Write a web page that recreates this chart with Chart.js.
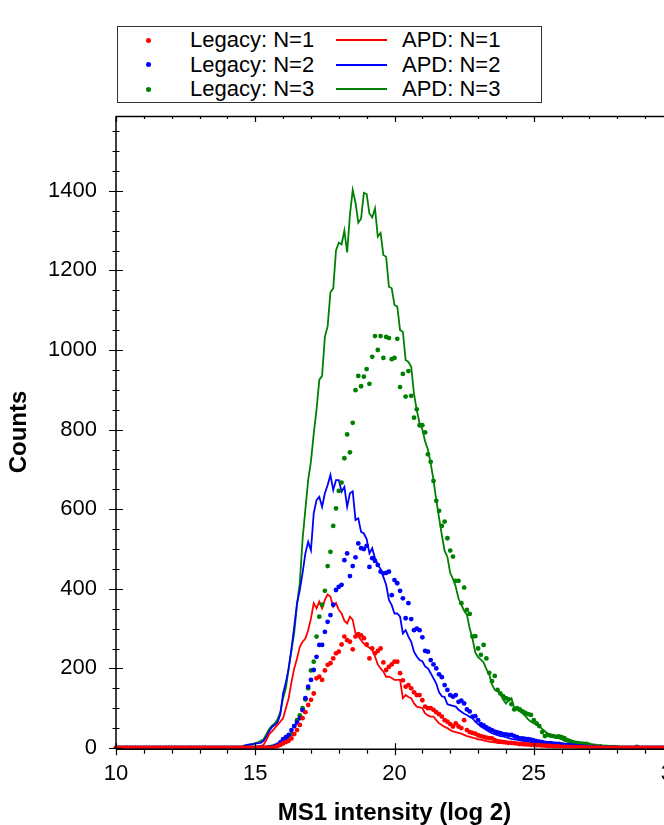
<!DOCTYPE html>
<html>
<head>
<meta charset="utf-8">
<script src="https://cdn.jsdelivr.net/npm/chart.js@4.4.1/dist/chart.umd.min.js"></script>
<style>
html,body{margin:0;padding:0;overflow:hidden;background:#fff;}
#wrap{position:relative;width:700px;height:840px;}
#c{position:absolute;left:0;top:0;}
#legend{position:absolute;left:117px;top:26px;width:425px;height:77px;box-sizing:border-box;border:1.3px solid #333;background:#fff;font-family:"Liberation Sans",Arial,sans-serif;font-size:22px;color:#000;}
.lt{position:absolute;line-height:24px;white-space:nowrap;}
.ld{position:absolute;width:5px;height:5px;border-radius:50%;}
.ll{position:absolute;width:51px;height:2px;}
</style>
</head>
<body>
<div id="wrap">
<canvas id="c" width="700" height="840" style="width:700px;height:840px"></canvas>
<div id="legend"></div>
</div>
<script>
// ---- data: counts per 0.1 log2 bin, bins from 10.0 to 30.0 ----
const intensityStart = 10.0;
const intensityStep = 0.1;

const legacyN1 = [
0,0,0,0,0,0,0,0,0,0,
0,0,0,0,0,0,0,0,0,0,
0,0,0,0,0,0,0,0,0,0,
0,0,0,0,0,0,0,0,0,0,
0,0,0,0,0,0,0,0,0,0,
0,0,0,0,0,0,0,2,4,8,
12,15,18,24,35,45,58,75,90,108,
121,137,175,179,171,195,209,213,225,238,
242,260,280,271,267,248,280,286,283,276,
260,225,250,238,244,250,215,196,204,210,
217,217,188,170,154,158,150,140,133,133,
120,104,100,100,96,90,85,79,70,66,
60,54,62,54,50,70,45,40,38,36,
32,30,28,26,25,24,20,17,16,15,
14,13,13,12,11,10,10,9,9,8,
8,7,7,6,6,5,5,4,4,4,
3,3,3,3,2,2,2,2,1,1,
1,1,1,1,0,0,0,0,0,0,
0,0,0,0,0,0,0,0,0,0,
0,0,0,0,0,0,0,0,0,0,
0];
const legacyN2 = [
0,0,0,0,0,0,0,0,0,0,
0,0,0,0,0,0,0,0,0,0,
0,0,0,0,0,0,0,0,0,0,
0,0,0,0,0,0,0,0,0,0,
0,0,0,0,0,0,0,0,0,0,
0,0,0,0,0,0,2,4,8,14,
22,27,33,45,55,64,75,95,125,154,
171,196,229,259,259,292,317,334,360,397,
405,410,472,489,432,457,479,514,502,500,
508,455,477,470,460,443,439,440,443,384,
422,414,395,376,326,364,324,296,300,296,
278,244,242,221,210,200,185,178,158,146,
133,129,133,116,119,112,97,92,79,80,
70,60,57,52,48,45,41,39,37,35,
34,33,33,30,27,24,24,23,22,21,
19,17,16,15,13,12,12,11,10,10,
9,8,7,7,6,5,4,4,3,3,
2,2,1,1,1,0,0,0,0,0,
0,0,0,0,0,0,0,0,0,0,
0,0,0,0,0,0,0,0,0,0,
0];
const legacyN3 = [
0,0,0,0,0,0,0,0,0,0,
0,0,0,0,0,0,0,0,0,0,
0,0,0,0,0,0,0,0,0,0,
0,0,0,0,0,0,0,0,0,0,
0,0,0,0,0,0,0,0,0,0,
0,0,0,0,0,2,3,5,7,9,
12,18,25,35,55,70,82,100,122,150,
195,217,280,330,360,395,457,493,558,602,
646,667,728,788,743,817,899,935,909,933,
952,915,983,1035,1000,1035,980,1033,1030,977,
980,1028,907,940,883,947,885,830,851,811,
811,793,738,719,671,621,596,558,569,527,
496,481,420,420,364,403,347,337,280,281,
250,234,259,225,189,168,181,146,137,130,
125,122,110,97,100,97,92,88,85,83,
70,62,55,40,30,33,31,30,28,29,
27,25,20,17,15,13,12,11,10,10,
8,6,5,4,4,3,3,2,2,2,
1,0,0,0,0,0,0,3,0,0,
0,0,0,0,0,0,0,0,0,0,
0];
const apdN1 = [
0,0,0,0,0,0,0,0,0,0,
0,0,0,0,0,0,0,0,0,0,
0,0,0,0,0,0,0,0,0,0,
0,0,0,0,0,0,0,0,0,0,
0,0,0,0,0,0,0,0,1,2,
3,4,5,8,20,35,42,50,58,66,
75,100,125,165,200,225,254,267,275,296,
325,364,351,368,351,372,386,380,355,364,
347,338,320,313,330,322,288,280,271,262,
256,252,246,230,210,200,192,179,179,176,
171,171,171,125,133,128,125,112,104,102,
100,87,82,79,79,70,62,58,53,50,
45,42,40,38,36,33,30,28,26,24,
22,21,19,17,16,15,14,13,12,12,
12,11,11,10,10,10,9,8,8,7,
7,6,6,5,5,5,4,4,4,3,
3,3,3,2,2,2,2,1,1,1,
1,1,1,0,0,0,0,0,0,0,
0,0,0,0,0,0,0,0,0,0,
0,0,0,0,0,0,0,0,0,0,
0];
const apdN2 = [
0,0,0,0,0,0,0,0,0,0,
0,0,0,0,0,0,0,0,0,0,
0,0,0,0,0,0,0,0,0,0,
0,0,0,0,0,0,0,0,0,0,
0,0,0,0,0,2,6,8,9,10,
11,12,13,18,28,42,53,58,64,85,
137,165,200,250,305,364,397,440,489,518,
497,590,623,631,606,640,661,686,648,673,
673,644,656,606,640,645,573,577,543,539,
525,489,502,477,460,450,430,410,372,359,
338,338,330,288,296,280,267,242,230,221,
218,205,200,188,175,162,140,130,128,110,
108,106,104,96,91,86,83,78,75,66,
60,54,50,45,41,37,35,32,30,29,
27,25,23,22,21,19,18,17,16,15,
13,12,11,11,10,10,9,9,8,8,
8,7,7,6,5,5,4,4,3,3,
2,2,1,1,1,0,0,0,0,0,
0,0,0,0,0,0,0,0,0,0,
0,0,0,0,0,0,0,0,0,0,
0];
const apdN3 = [
0,0,0,0,0,0,0,0,0,0,
0,0,0,0,0,0,0,0,0,0,
0,0,0,0,0,0,0,0,0,0,
0,0,0,0,0,0,0,0,0,0,
0,0,0,0,0,2,4,5,8,10,
12,14,18,22,35,48,56,62,72,90,
125,150,200,245,290,360,415,525,600,673,
720,790,850,925,935,1033,1060,1145,1155,1250,
1270,1265,1300,1245,1340,1402,1370,1320,1330,1395,
1392,1343,1333,1356,1285,1294,1239,1234,1159,1155,
1113,1109,1050,1046,975,970,958,890,849,816,
800,770,750,715,673,623,578,535,495,480,
440,425,405,375,360,345,335,300,275,240,
228,222,215,198,185,160,146,143,137,122,
112,120,125,100,96,92,87,80,72,66,
62,58,54,48,42,36,33,30,27,24,
22,18,16,14,12,11,10,9,8,8,
6,5,4,4,3,3,2,2,1,1,
0,0,0,0,0,0,0,0,0,0,
0,0,0,0,0,0,0,0,0,0,
0];

const seriesLabels = ['Legacy: N=1','Legacy: N=2','Legacy: N=3','APD: N=1','APD: N=2','APD: N=3'];
const seriesColors = ['#ff0000','#0000ff','#008000','#ff0000','#0000ff','#008000'];
const xTickValues = [10, 15, 20, 25, 30];
const yTickValues = [0, 200, 400, 600, 800, 1000, 1200, 1400];
const xMinorStep = 1, yMinorStep = 50;
const xMin = 10, xMax = 30, yMin = 0, yMax = 1588;

const FONT = '"Liberation Sans", Arial, sans-serif';

function toPoints(vals) {
  return vals.map((v, i) => ({x: +(intensityStart + i * intensityStep).toFixed(1), y: v}));
}

const allSeries = [legacyN1, legacyN2, legacyN3, apdN1, apdN2, apdN3];
const datasets = allSeries.map((vals, i) => {
  const isLine = i >= 3;
  const col = seriesColors[i];
  return {
    label: seriesLabels[i],
    data: toPoints(vals),
    showLine: isLine,
    borderColor: col,
    backgroundColor: col,
    borderWidth: 1.8,
    pointRadius: isLine ? 0 : 2.4,
    pointHoverRadius: 0,
    pointBorderWidth: 0,
    pointBackgroundColor: col,
    tension: 0,
    clip: {left: 4, top: 4, right: 4, bottom: 0.5}
  };
});

const axesPlugin = {
  id: 'axesFrame',
  afterDraw(chart) {
    const {ctx, chartArea: a, scales} = chart;
    const xs = scales.x, ys = scales.y;
    const W = chart.width;
    ctx.save();
    ctx.strokeStyle = '#000';
    ctx.lineWidth = 1.5;
    const by = a.bottom + 1.25;
    ctx.beginPath();
    ctx.moveTo(a.left, a.top); ctx.lineTo(a.left, by);
    ctx.moveTo(a.left, by); ctx.lineTo(W, by);
    ctx.moveTo(a.left, a.top + 0.5); ctx.lineTo(W, a.top + 0.5);
    ctx.stroke();
    ctx.lineWidth = 1.2;
    ctx.beginPath();
    for (let v = yMin; v <= yMax; v += yMinorStep) {
      const py = Math.round(ys.getPixelForValue(v)) + 0.5;
      const major = yTickValues.includes(v);
      const h = major ? 7 : 3.5;
      ctx.moveTo(a.left - h, py); ctx.lineTo(a.left + h, py);
    }
    for (let v = xMin; v <= xMax; v += xMinorStep) {
      const px = Math.round(xs.getPixelForValue(v)) + 0.5;
      const major = xTickValues.includes(v);
      if (major) { ctx.moveTo(px, by - 6); ctx.lineTo(px, by + 6); }
      else { ctx.moveTo(px, by); ctx.lineTo(px, by + 4.5); }
      ctx.moveTo(px, a.top); ctx.lineTo(px, a.top + (major ? 6 : 3));
    }
    ctx.stroke();
    ctx.restore();
  }
};

new Chart(document.getElementById('c'), {
  type: 'scatter',
  data: {datasets},
  options: {
    responsive: false,
    animation: false,
    devicePixelRatio: 1,
    events: [],
    layout: {padding: {left: 0, top: 116, right: 27, bottom: 0}},
    plugins: {legend: {display: false}, tooltip: {enabled: false}},
    scales: {
      x: {
        type: 'linear', position: 'bottom', min: xMin, max: xMax,
        afterBuildTicks(s) { s.ticks = xTickValues.map(v => ({value: v})); },
        ticks: {maxRotation: 0, autoSkip: false,
                font: {family: FONT, size: 22}, color: '#000', padding: 13},
        grid: {display: false, drawTicks: false},
        border: {display: false},
        title: {display: true, text: 'MS1 intensity (log 2)', color: '#000',
                font: {family: FONT, size: 24, weight: 'bold'}, padding: {top: 0, bottom: 12}},
        afterFit(s) { s.height = 92; }
      },
      y: {
        type: 'linear', position: 'left', min: yMin, max: yMax,
        afterBuildTicks(s) { s.ticks = yTickValues.map(v => ({value: v})); },
        ticks: {autoSkip: false, font: {family: FONT, size: 22}, color: '#000', padding: 19,
                callback: (v) => String(v)},
        grid: {display: false, drawTicks: false},
        border: {display: false},
        title: {display: true, text: 'Counts', color: '#000',
                font: {family: FONT, size: 24, weight: 'bold'}, padding: {top: 4.6, bottom: 0}},
        afterFit(s) { s.width = 116; }
      }
    }
  },
  plugins: [axesPlugin]
});

// ---- legend (two columns: Legacy dots / APD lines) ----
const legend = document.getElementById('legend');
const rowCenters = [13, 37.5, 62];
for (let r = 0; r < 3; r++) {
  const cy = rowCenters[r];
  const d = document.createElement('div');
  d.className = 'ld'; d.style.background = seriesColors[r];
  d.style.left = (30.5 - 2.5) + 'px'; d.style.top = (cy - 2.5) + 'px';
  legend.appendChild(d);
  const t1 = document.createElement('div');
  t1.className = 'lt'; t1.textContent = seriesLabels[r];
  t1.style.left = '72px'; t1.style.top = (cy - 11.7) + 'px';
  legend.appendChild(t1);
  const l = document.createElement('div');
  l.className = 'll'; l.style.background = seriesColors[r + 3];
  l.style.left = '218px'; l.style.top = (cy - 1) + 'px';
  legend.appendChild(l);
  const t2 = document.createElement('div');
  t2.className = 'lt'; t2.textContent = seriesLabels[r + 3];
  t2.style.left = '284px'; t2.style.top = (cy - 11.7) + 'px';
  legend.appendChild(t2);
}
</script>
</body>
</html>
